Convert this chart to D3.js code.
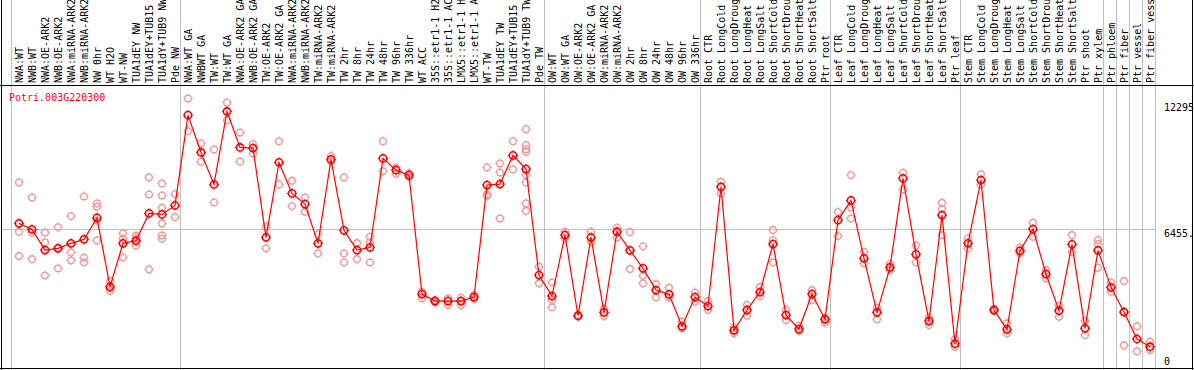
<!DOCTYPE html>
<html>
<head>
<meta charset="utf-8">
<script src="https://cdn.jsdelivr.net/npm/d3@7"></script>
<style>
  html, body { margin: 0; padding: 0; background: #fff; overflow: hidden; }
  svg { display: block; }
  text { font-family: "DejaVu Sans Mono", "Liberation Mono", monospace; font-size: 10px; }
</style>
</head>
<body>
<svg id="chart" width="1194" height="370"></svg>
<script>
const geneName = "Potri.003G220300";

const categories = [
  "NWA:WT","NWB:WT","NWA:OE-ARK2","NWB:OE-ARK2","NWA:miRNA-ARK2","NWB:miRNA-ARK2","NW 0hr","WT H2O","WT-NW","TUA1dEY NW","TUA1dEY+TUB15","TUA1dY+TUB9 NW","Pde NW",
  "NWA:WT GA","NWBWT GA","TW:WT","TW:WT GA","NWA:OE-ARK2 GA","NWB:OE-ARK2 GA","TW:OE-ARK2","TW:OE-ARK2 GA","NWA:miRNA-ARK2","NWB:miRNA-ARK2","TW:miRNA-ARK2","TW:miRNA-ARK2",
  "TW 2hr","TW 8hr","TW 24hr","TW 48hr","TW 96hr","TW 336hr","WT ACC","35S::etr1-1 H2","35S::etr1-1 AC","LMX5::etr1-1 H","LMX5::etr1-1 A","WT-TW","TUA1dEY TW","TUA1dEY+TUB15","TUA1dY+TUB9 TW","Pde TW",
  "OW:WT","OW:WT GA","OW:OE-ARK2","OW:OE-ARK2 GA","OW:miRNA-ARK2","OW:miRNA-ARK2","OW 2hr","OW 8hr","OW 24hr","OW 48hr","OW 96hr","OW 336hr",
  "Root CTR","Root LongCold","Root LongDroug","Root LongHeat","Root LongSalt","Root ShortCold","Root ShortDrou","Root ShortHeat","Root ShortSalt","Ptr root",
  "Leaf CTR","Leaf LongCold","Leaf LongDroug","Leaf LongHeat","Leaf LongSalt","Leaf ShortCold","Leaf ShortDrou","Leaf ShortHeat","Leaf ShortSalt","Ptr leaf",
  "Stem CTR","Stem LongCold","Stem LongDroug","Stem LongHeat","Stem LongSalt","Stem ShortCold","Stem ShortDrou","Stem ShortHeat","Stem ShortSalt","Ptr shoot","Ptr xylem",
  "Ptr phloem","Ptr fiber","Ptr vessel","Ptr fiber vess"
];

const means = [
  6720,6441,5480,5559,5791,5977,6980,3776,5791,5912,7184,7138,7556,
  11749,10017,8531,11921,10249,10217,6070,9553,8113,7616,5791,9692,
  6395,5480,5605,9739,9195,8963,3437,3111,3111,3111,3297,8499,8545,9878,9242,4319,
  3344,6177,2429,6070,2587,6330,5466,4630,3622,3423,1937,3297,
  2879,8420,1751,2694,3529,5759,2461,1811,3437,2262,
  6873,7788,5094,2587,4677,8810,5280,2183,7105,1128,
  5791,8731,2694,1797,5447,6455,4365,2661,5745,1844,5466,
  3748,2601,1347,989
];

const replicates = [
  [8624,6330,5201],[7927,6283,5062],[6302,5837,4305],[6548,4630,5573],[7059,5373,5002],[7974,5122,4909],
  [7649,7491,5930,6850],[4040,3701,3576],[6255,6005,5141],[6144,5680,6037],[8856,8067,4584],
  [8577,8020,7444,6720,6163,6005],[8081,7012],
  [12525,11006],[10435,9581],[10157,7695],[12339,11517],[10946,9599],[10403,9971],[6562,5559],[10542,8531],
  [8698,7523],[7927,7259],[6223,5327],[9859,9613],
  [8856,5327,4909],[5805,5062],[6098,5837,4909],[10542,9149],[9302,9023],[9056,8870],[3543,3237],
  [3158,3065],[3237,2926],[3265,2926],[3390,3204],[9321,8067,7988],[9506,9088,6952],[10542,9228],
  [11099,10356,10170,10045,8963,8624,7649,7305],[4704,3933],
  [3980,3158,2819],[6330,6023],[2461,2392],[6330,5865],[2740,2415],[6516,6051],[6316,4598],
  [5652,4286,3933],[3901,3283],[3729,3265],[2150,1844],[3516,3079],
  [3111,2694],[8652,8113],[1890,1611],[2926,2429],[3762,3344],[6409,5944,4909],[2694,2229],[1964,1718],[3622,3158],[2336,2104],
  [7245,6130],[8963,7463,6952],[5401,4862],[2800,2262],[4830,4551],[9070,8299],[5698,4909],[2336,1997],[7677,7384,6177],[1333,989],
  [6023,5559],[9009,8531],[2740,2647],[2076,1611],[5587,5327],[6748,6098],[4551,4166],[2893,2382],[6177,5373],[2197,1533],[5944,5759,4658],
  [3980,3543],[4040,2601,1054],[1937,776],[1221,836]
];

// categories that start a new block (vertical separator drawn before them)
const groupStarts = ["NWA:WT","NWA:WT GA","OW:WT","Root CTR","Leaf CTR","Stem CTR","Ptr phloem","Ptr fiber","Ptr vessel","Ptr fiber vess"];

const yTickValues = [12295, 6455, 0];
const yTickLabels = ["12295", "6455.", "0"];
const yMax = 13150;

const W = 1194, H = 370;
const plotLeft = 11, plotTop = 85, plotBottom = 368;
const colW = 13;
const plotRight = plotLeft + categories.length * colW;

const svg = d3.select("#chart");

const x = d3.scaleBand()
  .domain(d3.range(categories.length))
  .range([plotLeft, plotRight])
  .padding(0);
const cx = i => x(i) + 8;

const y = d3.scaleLinear().domain([0, yMax]).range([plotBottom, plotTop]);

const grey = "#c0c0c0";

// horizontal mid grid line
svg.append("line")
  .attr("x1", 1).attr("x2", plotRight)
  .attr("y1", Math.round(y(6455)) + 0.5).attr("y2", Math.round(y(6455)) + 0.5)
  .attr("stroke", grey).attr("stroke-width", 1);

// vertical group separators
const sepX = groupStarts.map(n => x(categories.indexOf(n))).concat([plotRight]);
svg.selectAll("line.sep").data(sepX).join("line")
  .attr("class", "sep")
  .attr("x1", d => d + 0.5).attr("x2", d => d + 0.5)
  .attr("y1", 0).attr("y2", H)
  .attr("stroke", grey).attr("stroke-width", 1);

// frame lines
svg.append("line").attr("x1", 0).attr("x2", W).attr("y1", plotTop + 0.5).attr("y2", plotTop + 0.5)
  .attr("stroke", "#000").attr("stroke-width", 1);
svg.append("line").attr("x1", 0).attr("x2", W).attr("y1", H - 1.5).attr("y2", H - 1.5)
  .attr("stroke", "#000").attr("stroke-width", 1);
svg.append("line").attr("x1", 1.5).attr("x2", 1.5).attr("y1", 0).attr("y2", H)
  .attr("stroke", "#000").attr("stroke-width", 1);

// category labels (rotated)
svg.selectAll("text.cat").data(categories).join("text")
  .attr("class", "cat")
  .attr("transform", (d, i) => `translate(${cx(i) + 3.5},83) rotate(-90)`)
  .attr("fill", "#000")
  .text(d => d);

// y axis labels
svg.selectAll("text.ytick").data(yTickValues).join("text")
  .attr("class", "ytick")
  .attr("x", 1164)
  .attr("y", (d, i) => i === yTickValues.length - 1 ? y(d) - 3 : y(d) + 8)
  .attr("fill", "#000")
  .text((d, i) => yTickLabels[i]);

// right border
svg.append("line").attr("x1", W - 1.5).attr("x2", W - 1.5).attr("y1", 0).attr("y2", H)
  .attr("stroke", "#000").attr("stroke-width", 1);

// gene title
svg.append("text").attr("x", 9).attr("y", 101).attr("fill", "#ff0000").text(geneName);

function marker(g, px, py, r, color, sw) {
  g.append("circle").attr("cx", px).attr("cy", py).attr("r", r)
    .attr("fill", "none").attr("stroke", color).attr("stroke-width", sw);
  const t = [[0, -1], [0, 1], [-1, 0], [1, 0]];
  t.forEach(([dx, dy]) => {
    g.append("line")
      .attr("x1", px + dx * (r - 0.5)).attr("y1", py + dy * (r - 0.5))
      .attr("x2", px + dx * (r + 1.5)).attr("y2", py + dy * (r + 1.5))
      .attr("stroke", color).attr("stroke-width", 1);
  });
}

// replicate markers
const repG = svg.append("g");
replicates.forEach((arr, i) => {
  arr.forEach(v => marker(repG, cx(i), y(v), 3.3, "#ee9a9a", 1.3));
});

// mean line
svg.append("path")
  .datum(means)
  .attr("fill", "none")
  .attr("stroke", "#ff0000")
  .attr("stroke-width", 1.2)
  .attr("d", d3.line().x((d, i) => cx(i)).y(d => y(d)));

// mean markers
const meanG = svg.append("g");
means.forEach((v, i) => marker(meanG, cx(i), y(v), 3.6, "#ff0000", 1.6));
</script>
</body>
</html>
